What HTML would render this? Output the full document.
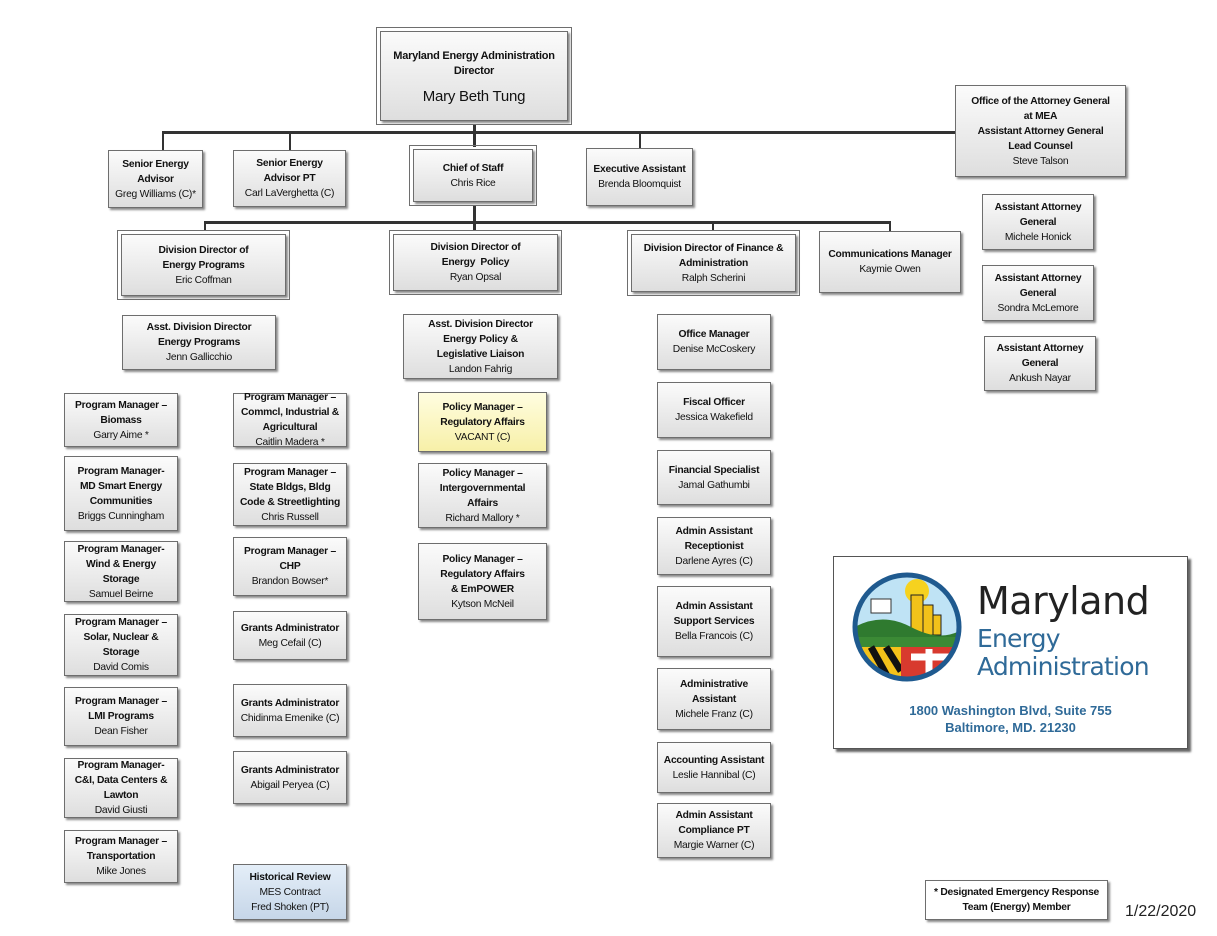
<!DOCTYPE html>
<html><head><meta charset="utf-8"><style>
body{margin:0;width:1217px;height:936px;background:#fff;position:relative;overflow:hidden;font-family:"Liberation Sans",sans-serif;}
.b{position:absolute;box-sizing:border-box;border:1px solid #6e6e6e;background:linear-gradient(#fbfbfb,#dedede);box-shadow:2px 2px 2px #8a8a8a;display:flex;flex-direction:column;justify-content:center;align-items:center;text-align:center;font-size:10.3px;line-height:15px;color:#111;white-space:nowrap;letter-spacing:-0.25px;overflow:visible}
.b b{font-weight:bold}
.d{outline:1px solid #6e6e6e;outline-offset:3px}
.l{position:absolute;background:#333}
</style></head><body>
<div class="l" style="left:473px;top:125px;width:3px;height:22px"></div>
<div class="l" style="left:162px;top:131px;width:793px;height:3px"></div>
<div class="l" style="left:162px;top:131px;width:2px;height:19px"></div>
<div class="l" style="left:289px;top:131px;width:2px;height:19px"></div>
<div class="l" style="left:639px;top:131px;width:2px;height:17px"></div>
<div class="l" style="left:473px;top:206px;width:3px;height:24px"></div>
<div class="l" style="left:204px;top:221px;width:687px;height:3px"></div>
<div class="l" style="left:204px;top:221px;width:2px;height:10px"></div>
<div class="l" style="left:712px;top:221px;width:2px;height:10px"></div>
<div class="l" style="left:889px;top:221px;width:2px;height:10px"></div>

<div class="b d" style="left:380px;top:31px;width:188px;height:90px;font-size:11px"><b>Maryland Energy Administration</b><b>Director</b><span style="font-size:15px;margin-top:10px">Mary Beth Tung</span></div>
<div class="b" style="left:955px;top:85px;width:171px;height:92px"><b>Office of the Attorney General</b><b>at MEA</b><b>Assistant Attorney General</b><b>Lead Counsel</b><span>Steve Talson</span></div>

<div class="b" style="left:108px;top:150px;width:95px;height:58px"><b>Senior Energy</b><b>Advisor</b><span>Greg Williams (C)*</span></div>
<div class="b" style="left:233px;top:150px;width:113px;height:57px"><b>Senior Energy</b><b>Advisor PT</b><span>Carl LaVerghetta (C)</span></div>
<div class="b d" style="left:413px;top:149px;width:120px;height:53px"><b>Chief of Staff</b><span>Chris Rice</span></div>
<div class="b" style="left:586px;top:148px;width:107px;height:58px"><b>Executive Assistant</b><span>Brenda Bloomquist</span></div>

<div class="b d" style="left:121px;top:234px;width:165px;height:62px"><b>Division Director of</b><b>Energy Programs</b><span>Eric Coffman</span></div>
<div class="b d" style="left:393px;top:234px;width:165px;height:57px"><b>Division Director of</b><b>Energy &nbsp;Policy</b><span>Ryan Opsal</span></div>
<div class="b d" style="left:631px;top:234px;width:165px;height:58px"><b>Division Director of Finance &amp;</b><b>Administration</b><span>Ralph Scherini</span></div>
<div class="b" style="left:819px;top:231px;width:142px;height:62px"><b>Communications Manager</b><span>Kaymie Owen</span></div>

<div class="b" style="left:982px;top:194px;width:112px;height:56px"><b>Assistant Attorney</b><b>General</b><span>Michele Honick</span></div>
<div class="b" style="left:982px;top:265px;width:112px;height:56px"><b>Assistant Attorney</b><b>General</b><span>Sondra McLemore</span></div>
<div class="b" style="left:984px;top:336px;width:112px;height:55px"><b>Assistant Attorney</b><b>General</b><span>Ankush Nayar</span></div>

<div class="b" style="left:122px;top:315px;width:154px;height:55px"><b>Asst. Division Director</b><b>Energy Programs</b><span>Jenn Gallicchio</span></div>
<div class="b" style="left:403px;top:314px;width:155px;height:65px"><b>Asst. Division Director</b><b>Energy Policy &amp;</b><b>Legislative Liaison</b><span>Landon Fahrig</span></div>

<div class="b" style="left:64px;top:393px;width:114px;height:54px"><b>Program Manager –</b><b>Biomass</b><span>Garry Aime *</span></div>
<div class="b" style="left:64px;top:456px;width:114px;height:75px"><b>Program Manager-</b><b>MD Smart Energy</b><b>Communities</b><span>Briggs Cunningham</span></div>
<div class="b" style="left:64px;top:541px;width:114px;height:61px"><b>Program Manager-</b><b>Wind &amp; Energy</b><b>Storage</b><span>Samuel Beirne</span></div>
<div class="b" style="left:64px;top:614px;width:114px;height:62px"><b>Program Manager –</b><b>Solar, Nuclear &amp;</b><b>Storage</b><span>David Comis</span></div>
<div class="b" style="left:64px;top:687px;width:114px;height:59px"><b>Program Manager –</b><b>LMI Programs</b><span>Dean Fisher</span></div>
<div class="b" style="left:64px;top:758px;width:114px;height:60px"><b>Program Manager-</b><b>C&amp;I, Data Centers &amp;</b><b>Lawton</b><span>David Giusti</span></div>
<div class="b" style="left:64px;top:830px;width:114px;height:53px"><b>Program Manager –</b><b>Transportation</b><span>Mike Jones</span></div>

<div class="b" style="left:233px;top:393px;width:114px;height:54px"><b>Program Manager –</b><b>Commcl, Industrial &amp;</b><b>Agricultural</b><span>Caitlin Madera *</span></div>
<div class="b" style="left:233px;top:463px;width:114px;height:63px"><b>Program Manager –</b><b>State Bldgs, Bldg</b><b>Code &amp; Streetlighting</b><span>Chris Russell</span></div>
<div class="b" style="left:233px;top:537px;width:114px;height:59px"><b>Program Manager –</b><b>CHP</b><span>Brandon Bowser*</span></div>
<div class="b" style="left:233px;top:611px;width:114px;height:49px"><b>Grants Administrator</b><span>Meg Cefail (C)</span></div>
<div class="b" style="left:233px;top:684px;width:114px;height:53px"><b>Grants Administrator</b><span>Chidinma Emenike (C)</span></div>
<div class="b" style="left:233px;top:751px;width:114px;height:53px"><b>Grants Administrator</b><span>Abigail Peryea (C)</span></div>
<div class="b" style="left:233px;top:864px;width:114px;height:56px;background:linear-gradient(#e4eef8,#c6d6e8)"><b>Historical Review</b><span>MES Contract</span><span>Fred Shoken (PT)</span></div>

<div class="b" style="left:418px;top:392px;width:129px;height:60px;background:linear-gradient(#fffde0,#f7f0a8)"><b>Policy Manager –</b><b>Regulatory Affairs</b><span>VACANT (C)</span></div>
<div class="b" style="left:418px;top:463px;width:129px;height:65px"><b>Policy Manager –</b><b>Intergovernmental</b><b>Affairs</b><span>Richard Mallory *</span></div>
<div class="b" style="left:418px;top:543px;width:129px;height:77px"><b>Policy Manager –</b><b>Regulatory Affairs</b><b>&amp; EmPOWER</b><span>Kytson McNeil</span></div>

<div class="b" style="left:657px;top:314px;width:114px;height:56px"><b>Office Manager</b><span>Denise McCoskery</span></div>
<div class="b" style="left:657px;top:382px;width:114px;height:56px"><b>Fiscal Officer</b><span>Jessica Wakefield</span></div>
<div class="b" style="left:657px;top:450px;width:114px;height:55px"><b>Financial Specialist</b><span>Jamal Gathumbi</span></div>
<div class="b" style="left:657px;top:517px;width:114px;height:58px"><b>Admin Assistant</b><b>Receptionist</b><span>Darlene Ayres (C)</span></div>
<div class="b" style="left:657px;top:586px;width:114px;height:71px"><b>Admin Assistant</b><b>Support Services</b><span>Bella Francois (C)</span></div>
<div class="b" style="left:657px;top:668px;width:114px;height:62px"><b>Administrative</b><b>Assistant</b><span>Michele Franz (C)</span></div>
<div class="b" style="left:657px;top:742px;width:114px;height:51px"><b>Accounting Assistant</b><span>Leslie Hannibal (C)</span></div>
<div class="b" style="left:657px;top:803px;width:114px;height:55px"><b>Admin Assistant</b><b>Compliance PT</b><span>Margie Warner (C)</span></div>

<div style="position:absolute;left:833px;top:556px;width:355px;height:193px;box-sizing:border-box;border:1px solid #555;background:#fff;box-shadow:3px 3px 2px #666">
<svg style="position:absolute;left:17px;top:14px" width="112" height="112" viewBox="0 0 112 112">
<defs><clipPath id="c"><circle cx="56" cy="56" r="52"/></clipPath></defs>
<g clip-path="url(#c)">
<rect width="112" height="112" fill="#bfe3f5"/>
<circle cx="66" cy="20" r="12" fill="#f6d21f"/>
<rect x="60" y="24" width="12" height="40" fill="#f2c21a" stroke="#222"/>
<rect x="72" y="34" width="10" height="30" fill="#f2c21a" stroke="#222"/>
<rect x="82" y="44" width="8" height="20" fill="#f2c21a" stroke="#222"/>
<rect x="20" y="28" width="20" height="14" fill="#fff" stroke="#333"/>
<path d="M0 58 Q30 40 60 56 T112 58 V70 H0Z" fill="#2f7a2f"/>
<rect x="0" y="66" width="112" height="10" fill="#3b8a35"/>
<rect x="0" y="76" width="50" height="40" fill="#f4c21a"/>
<path d="M5 76 L25 112 M20 76 L40 112 M35 76 L50 100" stroke="#111" stroke-width="7"/>
<rect x="50" y="76" width="62" height="40" fill="#d83a2e"/>
<path d="M60 86 H100 M78 78 V110" stroke="#fff" stroke-width="7"/>
</g>
<circle cx="56" cy="56" r="52" fill="none" stroke="#1f5a8f" stroke-width="5"/>
</svg>
<div style="position:absolute;left:143px;top:22px;font-size:38px;color:#222;font-family:'DejaVu Sans','Liberation Sans',sans-serif;letter-spacing:-0.5px">Maryland</div>
<div style="position:absolute;left:143px;top:68px;font-size:25px;line-height:28px;color:#2f6a98;font-family:'DejaVu Sans','Liberation Sans',sans-serif;letter-spacing:-0.8px">Energy<br>Administration</div>
<div style="position:absolute;left:0;width:100%;top:145px;text-align:center;font-size:13px;line-height:17px;color:#2f6a98;font-weight:bold">1800 Washington Blvd, Suite 755<br>Baltimore, MD. 21230</div>
</div>

<div class="b" style="left:925px;top:880px;width:183px;height:40px;background:#fff;box-shadow:2px 2px 2px #888"><b>* Designated Emergency Response</b><b>Team (Energy) Member</b></div>
<div style="position:absolute;left:1125px;top:903px;font-size:16px;color:#222">1/22/2020</div>
</body></html>
